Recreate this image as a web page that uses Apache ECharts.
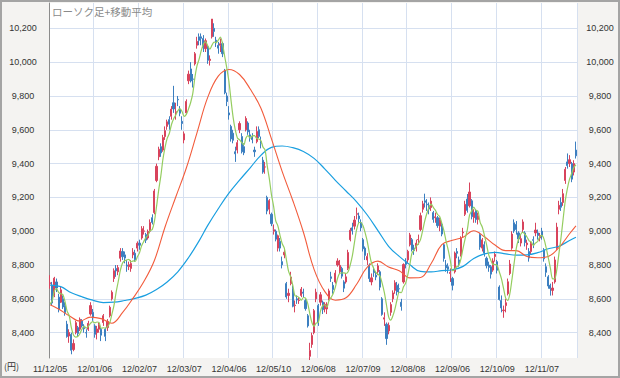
<!DOCTYPE html>
<html>
<head>
<meta charset="utf-8">
<script src="https://cdn.jsdelivr.net/npm/echarts@6/dist/echarts.min.js"></script>
<style>
  html, body { margin: 0; padding: 0; background: #f4f3f1; }
  #wrap { position: relative; width: 620px; height: 378px; }
  #chart { width: 620px; height: 378px; }
  #frame { position: absolute; left: 0; top: 0; width: 620px; height: 378px;
           box-sizing: border-box; border: 2px solid #a4a4a4; pointer-events: none; }
</style>
</head>
<body>
<div id="wrap">
  <div id="chart"></div>
  <div id="frame"></div>
</div>
<script>
// 営業日 (2011/12/05 - 2012/11/30)
var startDay = '2011-12-05';
var endDay = '2012-11-30';
var holidays = ['2011-12-23', '2012-01-02', '2012-01-03', '2012-01-09', '2012-03-20', '2012-04-30',
  '2012-05-03', '2012-05-04', '2012-07-16', '2012-09-17', '2012-10-08', '2012-11-23'];

// ローソク足 [始値, 終値, 安値, 高値]
var candles = [
  [8690,8695,8660,8740],[8680,8575,8560,8700],[8620,8722,8610,8730],[8700,8664,8640,8720],[8610,8536,8520,8630],
  [8580,8653,8575,8670],[8600,8552,8540,8620],[8560,8519,8500,8580],[8450,8377,8370,8470],[8380,8401,8340,8420],
  [8390,8296,8272,8400],[8300,8336,8290,8360],[8400,8459,8390,8470],[8430,8395,8380,8440],[8420,8479,8410,8490],
  [8470,8440,8430,8480],[8430,8423,8400,8450],[8400,8398,8370,8420],[8420,8455,8410,8470],[8510,8560,8500,8580],
  [8520,8488,8470,8540],[8440,8390,8370,8450],[8400,8422,8360,8440],[8420,8447,8400,8460],[8420,8385,8350,8430],
  [8460,8500,8440,8510],[8420,8378,8350,8430],[8430,8466,8410,8480],[8500,8550,8490,8560],[8600,8639,8590,8650],
  [8720,8766,8700,8780],[8780,8765,8730,8800],[8760,8785,8740,8800],[8840,8883,8820,8900],[8880,8849,8830,8900],
  [8860,8841,8810,8880],[8800,8793,8760,8830],[8790,8802,8770,8820],[8780,8809,8760,8830],[8860,8876,8840,8900],
  [8870,8831,8820,8890],[8900,8929,8880,8940],[8930,8917,8890,8950],[8960,9015,8950,9030],[9000,9002,8980,9030],
  [8980,8947,8930,8990],[8960,8999,8950,9010],[9000,9052,8990,9070],[9080,9052,9040,9100],[9110,9238,9100,9250],
  [9300,9384,9290,9400],[9440,9485,9420,9500],[9500,9463,9440,9520],[9480,9554,9470,9570],[9560,9595,9540,9620],
  [9620,9647,9600,9660],[9660,9633,9600,9680],[9680,9722,9660,9740],[9760,9723,9700,9860],[9700,9707,9660,9760],
  [9780,9777,9740,9800],[9720,9698,9680,9740],[9650,9637,9600,9680],[9540,9576,9520,9590],[9700,9768,9690,9780],
  [9890,9929,9870,9950],[9960,9889,9880,10000],[9900,9899,9850,9930],[9990,10050,9980,10060],[10100,10123,10080,10150],
  [10150,10129,10100,10170],[10150,10141,10100,10170],[10140,10086,10060,10160],[10080,10127,10060,10140],[10090,10011,9990,10100],
  [10010,10018,9980,10040],[10150,10255,10140,10255],[10200,10182,10150,10230],[10130,10114,10090,10150],[10100,10083,10050,10120],
  [10100,10109,10060,10140],[10110,10050,10030,10120],[9950,9819,9810,9960],[9800,9767,9740,9820],[9700,9688,9660,9740],
  [9620,9546,9530,9630],[9580,9538,9520,9600],[9470,9458,9410,9500],[9480,9524,9460,9540],[9600,9637,9580,9650],
  [9560,9470,9460,9580],[9500,9464,9450,9520],[9600,9667,9590,9680],[9640,9588,9570,9650],[9570,9561,9530,9600],
  [9560,9542,9520,9580],[9480,9470,9440,9500],[9530,9590,9520,9620],[9600,9561,9550,9620],[9530,9520,9490,9560],
  [9420,9350,9340,9440],[9380,9380,9340,9410],[9200,9119,9100,9210],[9130,9181,9100,9190],[9100,9045,9030,9110],
  [9000,9009,8980,9040],[9000,8953,8940,9010],[8900,8973,8880,8980],[8940,8900,8880,8960],[8820,8801,8780,8850],
  [8860,8876,8840,8900],[8690,8611,8600,8700],[8620,8633,8580,8660],[8690,8729,8680,8760],[8660,8556,8550,8680],
  [8560,8563,8520,8590],[8600,8593,8570,8620],[8590,8593,8570,8610],[8620,8657,8610,8670],[8640,8633,8610,8660],
  [8590,8542,8530,8600],[8500,8440,8430,8510],[8260,8295,8238,8340],[8330,8383,8310,8400],[8400,8530,8390,8540],
  [8600,8639,8580,8660],[8560,8459,8440,8570],[8580,8624,8560,8640],[8580,8536,8510,8590],[8540,8568,8520,8580],
  [8540,8568,8510,8580],[8600,8647,8590,8660],[8730,8721,8700,8760],[8680,8655,8630,8700],[8700,8752,8690,8770],
  [8800,8824,8790,8840],[8760,8798,8750,8830],[8780,8734,8720,8790],[8700,8663,8640,8710],[8700,8730,8690,8750],
  [8780,8874,8770,8890],[8950,9006,8940,9020],[9020,9003,8980,9050],[9030,9066,9010,9090],[9100,9104,9070,9140],
  [9090,9073,9050,9110],[9050,9020,9000,9070],[8950,8896,8880,8960],[8900,8857,8830,8910],[8830,8851,8800,8870],
  [8800,8720,8700,8810],[8700,8724,8680,8750],[8770,8755,8730,8790],[8740,8729,8710,8760],[8760,8795,8740,8810],
  [8760,8669,8650,8770],[8600,8508,8500,8610],[8480,8488,8440,8520],[8450,8365,8328,8460],[8410,8443,8390,8460],
  [8520,8566,8500,8580],[8600,8635,8580,8650],[8650,8695,8630,8710],[8680,8641,8620,8700],[8660,8659,8630,8690],
  [8580,8555,8530,8600],[8700,8803,8690,8810],[8820,8804,8780,8840],[8830,8881,8810,8890],[8920,8978,8910,8990],
  [8950,8891,8880,8960],[8900,8885,8860,8920],[8900,8929,8880,8950],[8950,8951,8920,8980],[9010,9092,9000,9110],
  [9130,9162,9110,9180],[9180,9171,9140,9222],[9160,9156,9120,9190],[9150,9131,9100,9170],[9140,9178,9120,9200],
  [9110,9070,9050,9120],[9080,9085,9050,9110],[9080,9033,9020,9090],[9030,9068,9000,9080],[9040,8983,8970,9050],
  [8920,8839,8820,8930],[8800,8783,8760,8830],[8790,8775,8750,8810],[8750,8757,8700,8780],[8720,8680,8650,8730],
  [8760,8871,8750,8880],[8880,8869,8840,8900],[8830,8807,8790,8850],[8860,8959,8850,8970],[8990,8995,8960,9020],
  [9100,9159,9090,9180],[9190,9123,9110,9220],[9150,9232,9140,9288],[9180,9086,9070,9190],[9080,9110,9050,9130],
  [9120,9069,9050,9130],[9070,9091,9040,9110],[8980,8906,8890,8990],[8900,8949,8880,8960],[8920,8870,8850,8940],
  [8840,8796,8780,8850],[8800,8786,8760,8820],[8790,8746,8720,8800],[8770,8824,8760,8840],[8850,8863,8820,8880],
  [8820,8769,8750,8830],[8670,8596,8590,8680],[8590,8546,8520,8620],[8530,8534,8488,8560],[8560,8577,8520,8600],
  [8630,8701,8620,8720],[8750,8806,8740,8830],[8900,8983,8890,9000],[9050,9002,8990,9070],[9040,9010,8980,9060],
  [8990,8954,8930,9000],[8930,8956,8910,8980],[9010,9055,8990,9070],[8990,8933,8910,9000],[8920,8930,8890,8950],
  [8880,8841,8820,8900],[8880,8928,8860,8940],[8950,8946,8900,8970],[8990,9007,8970,9050],[8990,8975,8950,9010],
  [8960,8975,8940,8990],[9000,8972,8950,9020],[8890,8837,8820,8900],[8790,8757,8730,8810],[8730,8676,8660,8740],
  [8680,8661,8619,8690],[8650,8664,8620,8700],[8700,8830,8690,8850],[8900,9024,8890,9050],[9130,9153,9100,9180],
  [9170,9142,9120,9200],[9170,9222,9150,9250],[9300,9366,9280,9380],[9410,9388,9370,9460],[9400,9423,9380,9450],
  [9400,9308,9290,9410],[9350,9400,9330,9420],[9480,9446,9430,9530]
];

// 5日移動平均 (緑)
var ma5 = [
  8569,8589,8646,8660,8638,8630,8625,8585,8527,8500,8429,8386,8374,8377,8393,8422,8439,8427,8439,8455,
  8465,8458,8463,8461,8426,8429,8426,8435,8456,8507,8560,8637,8701,8768,8810,8825,8830,8834,8819,8824,
  8822,8849,8872,8914,8939,8962,8976,9003,9010,9058,9145,9242,9324,9425,9496,9549,9578,9630,9664,9686,
  9712,9725,9708,9679,9691,9722,9760,9812,9907,9978,10018,10068,10106,10121,10099,10077,10099,10119,10116,10130,
  10149,10108,10035,9966,9887,9774,9672,9599,9551,9541,9525,9511,9552,9565,9550,9564,9566,9550,9545,9537,
  9498,9480,9386,9310,9215,9147,9061,9032,8976,8927,8901,8832,8764,8730,8681,8618,8615,8607,8592,8608,
  8604,8573,8513,8459,8438,8457,8461,8527,8558,8565,8551,8589,8608,8632,8669,8720,8750,8753,8754,8750,
  8760,8801,8855,8936,9011,9050,9053,9032,8990,8939,8869,8810,8781,8756,8745,8734,8691,8638,8565,8495,
  8474,8499,8541,8596,8639,8637,8671,8692,8740,8804,8871,8888,8913,8927,8950,9004,9061,9106,9142,9160,
  9141,9124,9099,9087,9048,9002,8941,8890,8827,8767,8773,8790,8797,8837,8900,8958,9009,9094,9119,9142,
  9124,9118,9052,9025,8977,8922,8861,8829,8804,8803,8798,8760,8720,8662,8604,8591,8633,8720,8814,8900,
  8951,8981,8995,8982,8966,8943,8937,8916,8930,8939,8966,8975,8953,8903,8843,8781,8719,8718,8771,8866,
  8963,9074,9181,9254,9308,9341,9377,9393
];

// 25日移動平均 (赤) [日の番号, 値]
var ma25 = [
  [0,8565],[4,8540],[9,8500],[14,8468],[19,8492],[24,8483],[29,8456],[34,8518],[39,8604],[44,8701],
  [49,8827],[54,9025],[59,9201],[64,9374],[69,9582],[74,9790],[79,9917],[84,9957],[89,9927],[94,9841],
  [99,9729],[104,9546],[109,9354],[114,9182],[119,8994],[124,8774],[129,8644],[134,8592],[139,8606],[144,8686],
  [149,8787],[154,8823],[159,8788],[164,8766],[169,8724],[174,8726],[179,8809],[184,8920],[189,8946],[194,8965],
  [199,9003],[204,8967],[209,8918],[214,8885],[219,8885],[224,8850],[229,8843],[234,8851],[239,8903],[244,8985],
  [247,9032]
];

// 75日移動平均 (青) [日の番号, 値]
var ma75 = [
  [0,8681],[5,8672],[10,8636],[15,8612],[20,8592],[25,8578],[30,8580],[35,8590],[40,8603],[45,8622],
  [50,8655],[55,8700],[60,8760],[65,8843],[70,8943],[74,9033],[79,9133],[84,9225],[89,9302],[94,9375],
  [99,9449],[104,9496],[109,9504],[114,9494],[119,9472],[124,9431],[129,9369],[134,9301],[139,9238],[144,9174],
  [149,9096],[154,9004],[159,8911],[164,8851],[169,8801],[174,8762],[179,8759],[184,8767],[189,8772],[194,8792],
  [199,8839],[204,8866],[209,8875],[214,8866],[219,8858],[224,8860],[229,8873],[234,8896],[239,8911],[244,8945],
  [247,8964]
];

var yMin = 8250;
var yMax = 10350;

function pad(n) {
  return n < 10 ? '0' + n : '' + n;
}

function makeDays() {
  var temp = [];
  var d = new Date(startDay + 'T00:00:00Z');
  var end = new Date(endDay + 'T00:00:00Z');
  while (d <= end) {
    var w = d.getUTCDay();
    var key = d.getUTCFullYear() + '-' + pad(d.getUTCMonth() + 1) + '-' + pad(d.getUTCDate());
    if (w != 0 && w != 6 && holidays.indexOf(key) < 0) {
      temp.push(pad(d.getUTCFullYear() % 100) + '/' + pad(d.getUTCMonth() + 1) + '/' + pad(d.getUTCDate()));
    }
    d.setUTCDate(d.getUTCDate() + 1);
  }
  return temp;
}

var days = makeDays();

var labelFont = {
  fontFamily: 'Liberation Sans, Arial, sans-serif',
  fontSize: 9,
  color: '#333'
};

function yLabel(v) {
  return Math.round(v).toLocaleString('en-US');
}

var chart = echarts.init(document.getElementById('chart'), null, { renderer: 'svg' });

var option = {
  animation: false,
  backgroundColor: '#f4f3f1',
  title: {
    text: 'ローソク足+移動平均',
    left: 52,
    top: 6,
    padding: 0,
    textStyle: {
      fontFamily: 'Noto Sans CJK JP',
      fontSize: 10.5,
      fontWeight: 'normal',
      color: '#8a8a8a'
    }
  },
  graphic: [{
    type: 'text',
    left: 4,
    top: 362,
    style: {
      text: '(円)',
      font: '9px "Noto Sans CJK JP"',
      fill: '#333'
    }
  }],
  grid: {
    left: 49,
    right: 43,
    top: 3,
    bottom: 20,
    show: true,
    backgroundColor: '#ffffff',
    borderWidth: 0
  },
  xAxis: {
    type: 'category',
    data: days,
    boundaryGap: true,
    axisLine: { show: false },
    axisTick: { show: false },
    axisLabel: Object.assign({ interval: 20, margin: 6 }, labelFont),
    splitLine: {
      show: true,
      interval: 20,
      lineStyle: { color: '#d6e0f0', width: 1 }
    }
  },
  yAxis: [{
    type: 'value',
    position: 'left',
    min: yMin,
    max: yMax,
    splitNumber: 10,
    axisLine: { show: true, lineStyle: { color: '#8c8c8c', width: 1 } },
    axisTick: { show: false },
    axisLabel: Object.assign({
      formatter: yLabel, align: 'center', margin: 26,
      showMinLabel: false, showMaxLabel: false
    }, labelFont),
    splitLine: {
      show: true,
      showMinLine: false,
      showMaxLine: false,
      lineStyle: { color: '#d6e0f0', width: 1 }
    }
  }, {
    type: 'value',
    position: 'right',
    min: yMin,
    max: yMax,
    splitNumber: 10,
    axisLine: { show: false },
    axisTick: { show: false },
    axisLabel: Object.assign({
      formatter: yLabel, align: 'center', margin: 23,
      showMinLabel: false, showMaxLabel: false
    }, labelFont),
    splitLine: { show: false }
  }],
  series: [{
    name: 'ローソク足',
    type: 'candlestick',
    data: candles,
    barWidth: 1.6,
    itemStyle: {
      color: '#d8435c',
      color0: '#3c7fc0',
      borderColor: '#d8435c',
      borderColor0: '#3c7fc0',
      borderWidth: 1
    }
  }, {
    name: '75日',
    type: 'line',
    data: ma75,
    smooth: 0.4,
    symbol: 'none',
    lineStyle: { color: '#1a9fe0', width: 1.2 }
  }, {
    name: '25日',
    type: 'line',
    data: ma25,
    smooth: 0.4,
    symbol: 'none',
    lineStyle: { color: '#f25c3c', width: 1.1 }
  }, {
    name: '5日',
    type: 'line',
    data: ma5,
    smooth: 0.3,
    symbol: 'none',
    lineStyle: { color: '#95cd60', width: 1.2 }
  }]
};

chart.setOption(option);
</script>
</body>
</html>
